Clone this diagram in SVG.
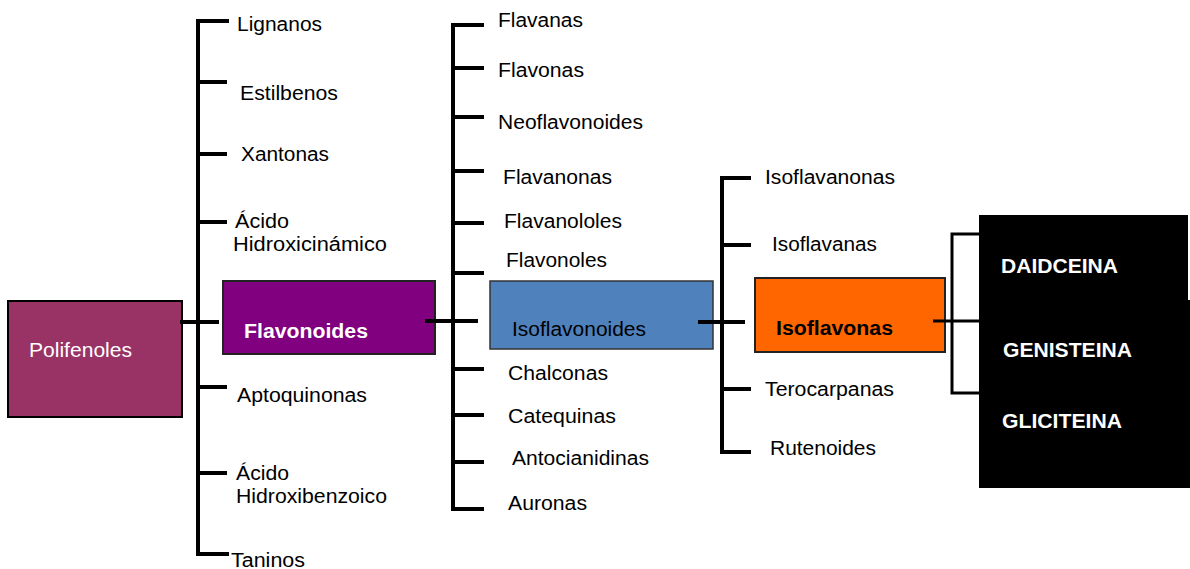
<svg xmlns="http://www.w3.org/2000/svg" width="1190" height="569" viewBox="0 0 1190 569">
<style>
.t{font-family:"Liberation Sans",Arial,sans-serif;font-size:20px;fill:#000}
.w{fill:#fff}
.b{font-weight:bold}
.c{stroke:#000;stroke-width:4;fill:none;stroke-linecap:square}
.c3{stroke:#000;stroke-width:3;fill:none}
</style>
<rect width="1190" height="569" fill="#fff"/>
<g id="polifenoles">
<rect x="8" y="301" width="174" height="116" fill="#993366" stroke="#000" stroke-width="2"/>
<text class="t w" x="29" y="357" textLength="103" lengthAdjust="spacingAndGlyphs">Polifenoles</text>
</g>
<g id="flavonoides">
<rect x="223" y="281" width="212" height="73" fill="#800080" stroke="#222" stroke-width="2"/>
<text class="t w b" x="244" y="338" textLength="124" lengthAdjust="spacingAndGlyphs">Flavonoides</text>
</g>
<g id="isoflavonoides">
<rect x="490" y="281" width="223" height="68" fill="#4F81BD" stroke="#333" stroke-width="1.5"/>
<text class="t" x="512" y="336" textLength="134" lengthAdjust="spacingAndGlyphs">Isoflavonoides</text>
</g>
<g id="isoflavonas">
<rect x="755" y="278" width="190" height="74" fill="#FF6600" stroke="#222" stroke-width="2"/>
<text class="t b" x="776" y="335" textLength="117" lengthAdjust="spacingAndGlyphs">Isoflavonas</text>
</g>
<g id="isoflavonas-tipos">
<rect x="979" y="215" width="209" height="273" fill="#000"/>
<rect x="981" y="300" width="209" height="188" fill="#000"/>
<text class="t w b" x="1001" y="273" textLength="117" lengthAdjust="spacingAndGlyphs">DAIDCEINA</text>
<text class="t w b" x="1003" y="357" textLength="129" lengthAdjust="spacingAndGlyphs">GENISTEINA</text>
<text class="t w b" x="1002" y="428" textLength="120" lengthAdjust="spacingAndGlyphs">GLICITEINA</text>
</g>
<g id="lignanos"><text class="t" x="237" y="31" textLength="85" lengthAdjust="spacingAndGlyphs">Lignanos</text></g>
<g id="estilbenos"><text class="t" x="240" y="100" textLength="98" lengthAdjust="spacingAndGlyphs">Estilbenos</text></g>
<g id="xantonas"><text class="t" x="241" y="161" textLength="88" lengthAdjust="spacingAndGlyphs">Xantonas</text></g>
<g id="acido-hidroxicinamico"><text class="t" x="235" y="228" textLength="54" lengthAdjust="spacingAndGlyphs">Ácido</text><text class="t" x="233" y="251" textLength="154" lengthAdjust="spacingAndGlyphs">Hidroxicinámico</text></g>
<g id="aptoquinonas"><text class="t" x="237" y="402" textLength="130" lengthAdjust="spacingAndGlyphs">Aptoquinonas</text></g>
<g id="acido-hidroxibenzoico"><text class="t" x="236" y="480" textLength="53" lengthAdjust="spacingAndGlyphs">Ácido</text><text class="t" x="236" y="503" textLength="151" lengthAdjust="spacingAndGlyphs">Hidroxibenzoico</text></g>
<g id="taninos"><text class="t" x="231" y="567" textLength="74" lengthAdjust="spacingAndGlyphs">Taninos</text></g>
<g id="flavanas"><text class="t" x="498" y="27" textLength="85" lengthAdjust="spacingAndGlyphs">Flavanas</text></g>
<g id="flavonas"><text class="t" x="498" y="77" textLength="86" lengthAdjust="spacingAndGlyphs">Flavonas</text></g>
<g id="neoflavonoides"><text class="t" x="498" y="129" textLength="145" lengthAdjust="spacingAndGlyphs">Neoflavonoides</text></g>
<g id="flavanonas"><text class="t" x="503" y="184" textLength="109" lengthAdjust="spacingAndGlyphs">Flavanonas</text></g>
<g id="flavanololes"><text class="t" x="504" y="228" textLength="118" lengthAdjust="spacingAndGlyphs">Flavanololes</text></g>
<g id="flavonoles"><text class="t" x="506" y="267" textLength="101" lengthAdjust="spacingAndGlyphs">Flavonoles</text></g>
<g id="chalconas"><text class="t" x="508" y="380" textLength="100" lengthAdjust="spacingAndGlyphs">Chalconas</text></g>
<g id="catequinas"><text class="t" x="508" y="423" textLength="108" lengthAdjust="spacingAndGlyphs">Catequinas</text></g>
<g id="antocianidinas"><text class="t" x="512" y="465" textLength="137" lengthAdjust="spacingAndGlyphs">Antocianidinas</text></g>
<g id="auronas"><text class="t" x="508" y="510" textLength="79" lengthAdjust="spacingAndGlyphs">Auronas</text></g>
<g id="isoflavanonas"><text class="t" x="765" y="184" textLength="130" lengthAdjust="spacingAndGlyphs">Isoflavanonas</text></g>
<g id="isoflavanas"><text class="t" x="772" y="251" textLength="105" lengthAdjust="spacingAndGlyphs">Isoflavanas</text></g>
<g id="terocarpanas"><text class="t" x="765" y="396" textLength="129" lengthAdjust="spacingAndGlyphs">Terocarpanas</text></g>
<g id="rutenoides"><text class="t" x="770" y="455" textLength="106" lengthAdjust="spacingAndGlyphs">Rutenoides</text></g>
<g id="connectors">
<path class="c" d="M182,322H217M227,21H198V554H227M198,82H225M198,154H225M198,222H225M198,387H225M198,473H225"/>
<path class="c" d="M427,321H476M482,25H453V509H482M453,68H482M453,117H482M453,171H482M453,223H482M453,273H482M453,369H482M453,415H482M453,462H482"/>
<path class="c" d="M700,322H743M749,178H722V452H749M722,245H749M722,389H749"/>
<path class="c3" d="M933,321H979M979,234H952V393H979"/>
</g>
</svg>
